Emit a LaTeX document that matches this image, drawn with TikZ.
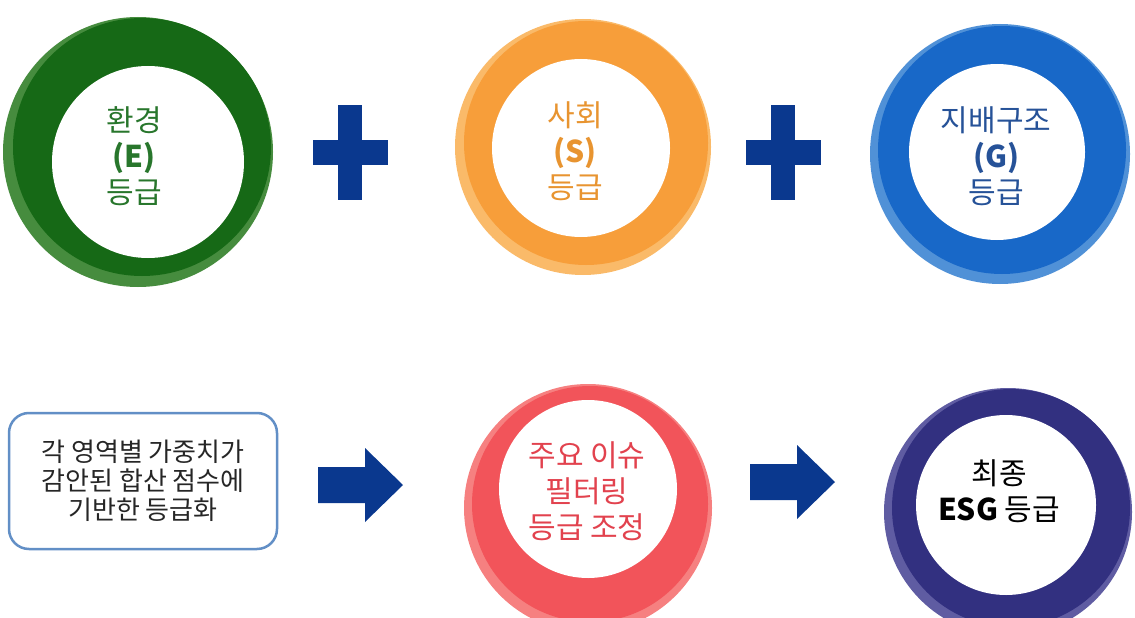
\documentclass[tikz,border=0pt]{standalone}
\usepackage{fontspec}
\setmainfont{Noto Sans CJK KR}
\begin{document}
\begin{tikzpicture}[x=1pt,y=-1pt]
  % Colors
  \definecolor{envcolor}{RGB}{22,105,22}
  \definecolor{envlight}{RGB}{70,140,62}
  \definecolor{envtext}{RGB}{40,118,44}
  \definecolor{soccolor}{RGB}{247,158,58}
  \definecolor{soclight}{RGB}{250,186,105}
  \definecolor{soctext}{RGB}{232,148,48}
  \definecolor{govcolor}{RGB}{24,104,200}
  \definecolor{govlight}{RGB}{80,145,215}
  \definecolor{govtext}{RGB}{38,82,152}
  \definecolor{issuecolor}{RGB}{242,84,90}
  \definecolor{issuelight}{RGB}{246,128,128}
  \definecolor{issuetext}{RGB}{226,66,78}
  \definecolor{finalcolor}{RGB}{50,48,128}
  \definecolor{finallight}{RGB}{95,92,162}
  \definecolor{arrowcolor}{RGB}{10,56,142}
  \definecolor{boxcolor}{RGB}{98,143,198}

  % Styles
  \tikzstyle{grade text}=[align=center,font=\fontsize{30}{36}\selectfont]
  \tikzstyle{block}=[fill=arrowcolor]
  \tikzstyle{calc box}=[draw=boxcolor,line width=2.5pt,rounded corners=20pt,
    minimum width=268pt,minimum height=136pt,align=center,text=black!85,
    font=\fontsize{26}{29}\selectfont]

  \useasboundingbox (0,0) rectangle (1135,618);

  % Top row: E, S, G
  \fill[envlight] (138,152) circle (135pt);
  \fill[envcolor] (142,147) circle (129pt);
  \fill[white] (148,162) circle (96pt);
  \node[grade text,text=envtext] (env) at (134,156) {환경\\\textbf{(E)}\\등급};

  \fill[soclight] (583,147) circle (128pt);
  \fill[soccolor] (586,143) circle (122pt);
  \fill[white] (581,148) circle (89pt);
  \node[grade text,text=soctext] (soc) at (575,151) {사회\\\textbf{(S)}\\등급};

  \fill[govlight] (1000,154) circle (130pt);
  \fill[govcolor] (1002,150) circle (124pt);
  \fill[white] (997,152) circle (88pt);
  \node[grade text,text=govtext] (gov) at (996,156) {지배구조\\\textbf{(G)}\\등급};

  \foreach \dx in {0,433} {
    \fill[block,xshift=\dx pt] (338,105) rectangle (362,200);
    \fill[block,xshift=\dx pt] (313,140) rectangle (388,165);
  }

  % Bottom row
  \node[calc box] (calc) at (143,481) {각 영역별 가중치가\\감안된 합산 점수에\\기반한 등급화};

  \fill[issuelight] (588,508) circle (124pt);
  \fill[issuecolor] (590,504) circle (118pt);
  \fill[white] (588,489) circle (89pt);
  \node[grade text,text=issuetext] (issue) at (587,491) {주요 이슈\\필터링\\등급 조정};

  \fill[finallight] (1008,512) circle (124pt);
  \fill[finalcolor] (1011,508) circle (119pt);
  \fill[white] (1006,505) circle (90pt);
  \node[grade text,text=black] (final) at (999,491) {최종\\\textbf{ESG} 등급};

  \foreach \dx/\dy in {0/0, 432/-3}
    \fill[block,shift={(\dx,\dy)}] (318,467) -- (365,467) -- (365,448) -- (403,485)
      -- (365,522) -- (365,503) -- (318,503) -- cycle;
\end{tikzpicture}
\end{document}
